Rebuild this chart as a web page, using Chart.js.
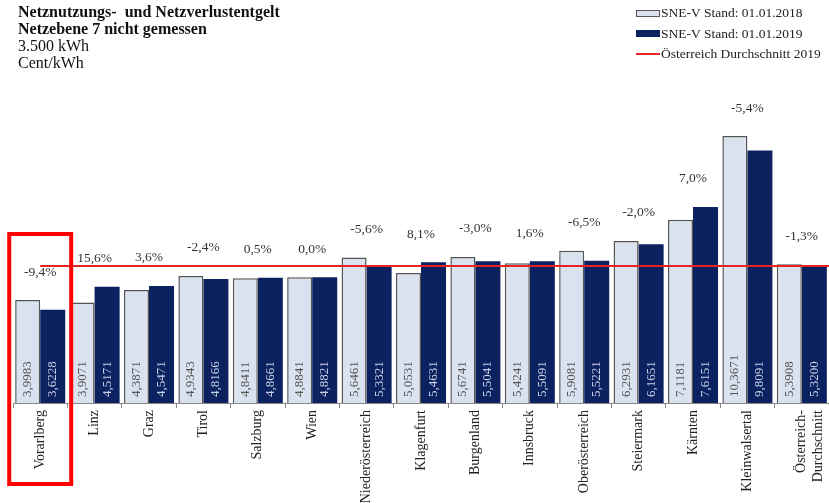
<!DOCTYPE html>
<html>
<head>
<meta charset="utf-8">
<script src="https://cdn.jsdelivr.net/npm/chart.js@4.4.0/dist/chart.umd.min.js"></script>
<style>
    html, body { margin: 0; padding: 0; background: #fff; }
    #wrap { position: relative; width: 829px; height: 503px; }
    #title {
        position: absolute; left: 18px; top: 3px;
        font-family: "Liberation Serif", "Times New Roman", serif;
        font-size: 16px; line-height: 17px; color: #111;
    }
    #title b { font-weight: bold; }
    #legend {
        position: absolute; left: 636px; top: 3px;
        font-family: "Liberation Serif", "Times New Roman", serif;
        font-size: 13.5px; color: #222;
    }
    .item { height: 20.5px; display: flex; align-items: center; }
    .sw { width: 24px; height: 7px; box-sizing: border-box; margin-right: 1px; }
    .sw.light { background: #dae2f0; border: 1px solid #555; }
    .sw.dark { background: #0b2160; }
    .sw.line { height: 2px; background: #e52323; }
</style>
</head>
<body>
<div id="wrap">
    <canvas id="chart" width="829" height="503"></canvas>
    <div id="title">
        <b>Netznutzungs-&nbsp; und Netzverlustentgelt</b><br>
        <b>Netzebene 7 nicht gemessen</b><br>
        3.500 kWh<br>
        Cent/kWh
    </div>
    <div id="legend">
        <div class="item"><span class="sw light"></span>SNE-V Stand: 01.01.2018</div>
        <div class="item"><span class="sw dark"></span>SNE-V Stand: 01.01.2019</div>
        <div class="item"><span class="sw line"></span>Österreich Durchschnitt 2019</div>
    </div>
</div>
<script>
// ================================
//   DATEN
// ================================
const categories = ["Vorarlberg", "Linz", "Graz", "Tirol", "Salzburg", "Wien", "Niederösterreich",
    "Klagenfurt", "Burgenland", "Innsbruck", "Oberösterreich", "Steiermark", "Kärnten",
    "Kleinwalsertal", ["Österreich-", "Durchschnitt"]];
const values2018 = [3.9983, 3.9071, 4.3871, 4.9343, 4.8411, 4.8841, 5.6461, 5.0531,
    5.6741, 5.4241, 5.9081, 6.2931, 7.1181, 10.3671, 5.3908];
const values2019 = [3.6228, 4.5171, 4.5471, 4.8166, 4.8661, 4.8821, 5.3321, 5.4631,
    5.5041, 5.5091, 5.5221, 6.1651, 7.6151, 9.8091, 5.3200];
const changeLabels = ["-9,4%", "15,6%", "3,6%", "-2,4%", "0,5%", "0,0%", "-5,6%", "8,1%",
    "-3,0%", "1,6%", "-6,5%", "-2,0%", "7,0%", "-5,4%", "-1,3%"];
const austriaAvg2019 = 5.32;
const highlightIndex = 0;

const SERIF = '"Liberation Serif", "Times New Roman", serif';
const fmt = v => v.toFixed(4).replace('.', ',');

// ================================
//   PLUGIN: Linie, Werte, Prozent, Rahmen
// ================================
const overlayPlugin = {
    id: 'overlay',
    afterDatasetsDraw(chart) {
        const ctx = chart.ctx;
        const { x, y } = chart.scales;
        const area = chart.chartArea;

        // Werte in den Balken (vertikal)
        ctx.save();
        ctx.font = `13px ${SERIF}`;
        ctx.textAlign = 'left';
        ctx.textBaseline = 'middle';
        chart.data.datasets.forEach((ds, di) => {
            const meta = chart.getDatasetMeta(di);
            meta.data.forEach((bar, i) => {
                ctx.save();
                ctx.translate(bar.x, area.bottom - 6);
                ctx.rotate(-Math.PI / 2);
                ctx.fillStyle = di === 0 ? '#555' : '#c9d2e6';
                ctx.fillText(fmt(ds.data[i]), 0, 0);
                ctx.restore();
            });
        });
        ctx.restore();

        // Durchschnittslinie
        const yAvg = y.getPixelForValue(austriaAvg2019);
        ctx.save();
        ctx.strokeStyle = '#e52323';
        ctx.lineWidth = 2;
        ctx.beginPath();
        ctx.moveTo(x.getPixelForValue(0), yAvg);
        ctx.lineTo(area.right, yAvg);
        ctx.stroke();
        ctx.restore();

        // Veränderung in %
        ctx.save();
        ctx.font = `13.5px ${SERIF}`;
        ctx.fillStyle = '#333';
        ctx.textAlign = 'center';
        ctx.textBaseline = 'middle';
        changeLabels.forEach((lbl, i) => {
            const top = y.getPixelForValue(Math.max(values2018[i], values2019[i]));
            ctx.fillText(lbl, x.getPixelForValue(i), top - 28);
        });
        ctx.restore();

        // Rahmen um Vorarlberg
        const cx = x.getPixelForValue(highlightIndex);
        ctx.save();
        ctx.strokeStyle = '#ff0000';
        ctx.lineWidth = 4;
        ctx.strokeRect(cx - 31, area.bottom - 169, 62, 250);
        ctx.restore();
    }
};

// ================================
//   CHART
// ================================
new Chart(document.getElementById('chart').getContext('2d'), {
    type: 'bar',
    data: {
        labels: categories,
        datasets: [
            {
                label: 'SNE-V Stand: 01.01.2018',
                data: values2018,
                backgroundColor: '#dae2f0',
                borderColor: '#555',
                borderWidth: { top: 1.5, left: 1.5, right: 1.5, bottom: 0 },
                categoryPercentage: 0.92,
                barPercentage: 1.0
            },
            {
                label: 'SNE-V Stand: 01.01.2019',
                data: values2019,
                backgroundColor: '#0b2160',
                borderWidth: 0,
                categoryPercentage: 0.92,
                barPercentage: 1.0
            }
        ]
    },
    options: {
        responsive: false,
        animation: false,
        layout: { padding: { top: 94, left: 13, right: 0, bottom: 0 } },
        plugins: {
            legend: { display: false },
            tooltip: { enabled: false }
        },
        scales: {
            y: { display: false, min: 0, max: 12 },
            x: {
                afterFit(scale) {
                    scale.height = 100;
                    scale.paddingLeft = 0;
                    scale.paddingRight = 0;
                },
                border: { display: true, color: '#888', width: 1 },
                grid: { display: true, drawOnChartArea: false, tickLength: 5, color: '#888' },
                ticks: {
                    minRotation: 90, maxRotation: 90, autoSkip: false, padding: 2,
                    color: '#222',
                    font: { family: SERIF, size: 14 }
                }
            }
        }
    },
    plugins: [overlayPlugin]
});
</script>
</body>
</html>
